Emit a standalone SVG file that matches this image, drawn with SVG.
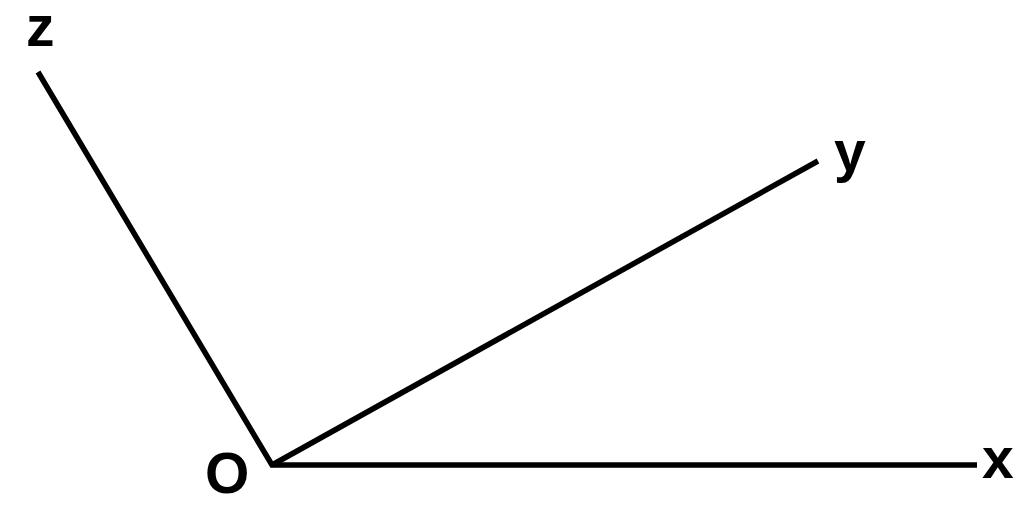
<svg xmlns="http://www.w3.org/2000/svg" width="1024" height="511" viewBox="0 0 1024 511">
<style>
.axis{stroke:#000;stroke-width:5.5;fill:none;stroke-linecap:butt;stroke-linejoin:miter}
.lbl{font-family:"Liberation Sans",Arial,sans-serif;font-weight:bold;font-size:57px;fill:#000}
</style>
<rect width="1024" height="511" fill="#fff"/>
<g id="connectors">
<path class="axis" d="M38 72 L272 465 L977 465"/>
<path class="axis" d="M272 465 L818 161"/>
</g>
<g id="label-z"><text class="lbl" x="26" y="46">z</text></g>
<g id="label-y"><text class="lbl" x="834" y="171">y</text></g>
<g id="label-x"><text class="lbl" x="982" y="478">x</text></g>
<g id="label-O"><text class="lbl" x="205" y="493">O</text></g>
</svg>
